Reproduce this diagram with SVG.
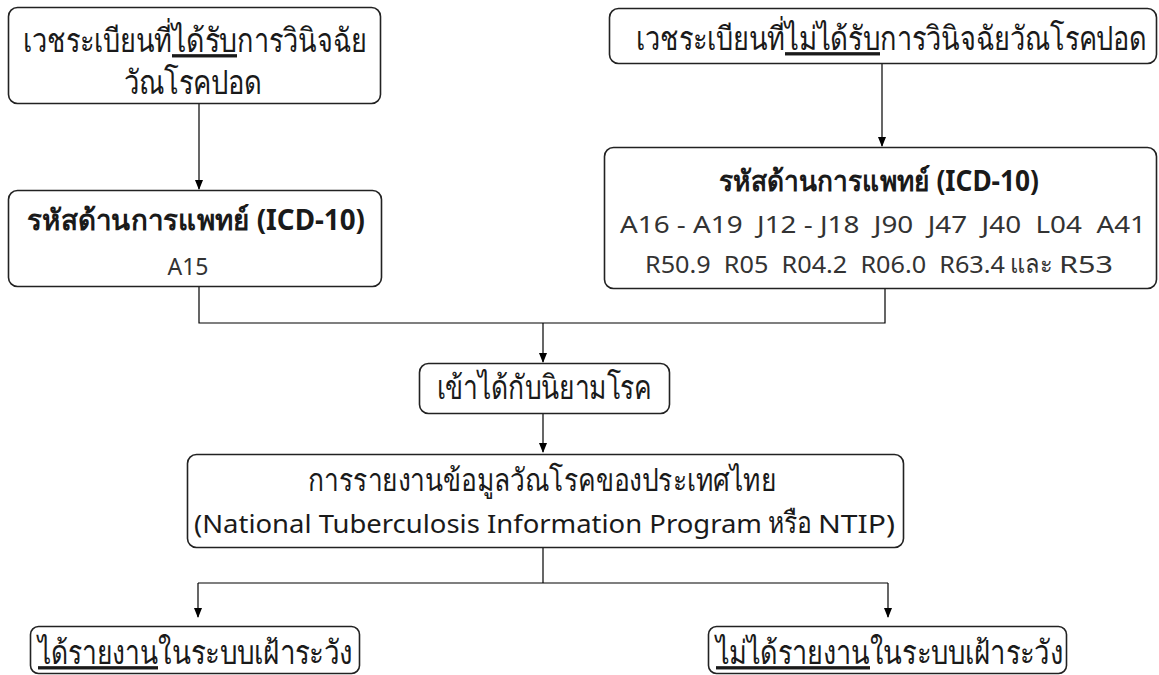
<svg xmlns="http://www.w3.org/2000/svg" width="1159" height="675" viewBox="0 0 1159 675">
<defs>
<marker id="arr" markerWidth="10" markerHeight="12" refX="9" refY="4" orient="auto" markerUnits="userSpaceOnUse" viewBox="0 0 10 8">
<path d="M0,0 L10,4 L0,8 z" fill="#000"/>
</marker>
<style>
.box{fill:#fff;stroke:#222;stroke-width:1.6}
.t{font-family:"Noto Sans","DejaVu Sans",sans-serif;fill:#1a1a1a;text-anchor:middle}
.s{text-anchor:start}
.b{font-weight:bold}
.c{fill:#333}
.u{text-decoration:underline}
.ln{fill:none;stroke:#000;stroke-width:1.2}
</style>
</defs>
<rect width="1159" height="675" fill="#fff"/>
<g id="connectors">
<path class="ln" d="M199,103 V189" marker-end="url(#arr)"/>
<path class="ln" d="M882,64 V146" marker-end="url(#arr)"/>
<path class="ln" d="M199,287 V323 H885 V288"/>
<path class="ln" d="M543,323 V362" marker-end="url(#arr)"/>
<path class="ln" d="M543,414 V452" marker-end="url(#arr)"/>
<path class="ln" d="M543,548 V583"/>
<path class="ln" d="M198,583 H888"/>
<path class="ln" d="M198,583 V617" marker-end="url(#arr)"/>
<path class="ln" d="M888,583 V617" marker-end="url(#arr)"/>
</g>
<g id="n1">
<rect class="box" x="8.5" y="7.5" width="372" height="96" rx="9"/>
<text class="t s" transform="translate(23,52) scale(1,1.18)" x="0" y="0" font-size="28" textLength="149" lengthAdjust="spacingAndGlyphs">เวชระเบียนที่</text>
<text class="t s u" transform="translate(172,52) scale(1,1.18)" x="0" y="0" font-size="28" textLength="65" lengthAdjust="spacingAndGlyphs">ได้รับ</text>
<text class="t s" transform="translate(237,52) scale(1,1.18)" x="0" y="0" font-size="28" textLength="130" lengthAdjust="spacingAndGlyphs">การวินิจฉัย</text>
<text class="t" transform="translate(193,94) scale(1,1.18)" x="0" y="0" font-size="28" textLength="138" lengthAdjust="spacingAndGlyphs">วัณโรคปอด</text>
</g>
<g id="n2">
<rect class="box" x="609.5" y="8.5" width="547" height="55" rx="9"/>
<text class="t s" transform="translate(636,50) scale(1,1.18)" x="0" y="0" font-size="28" textLength="149" lengthAdjust="spacingAndGlyphs">เวชระเบียนที่</text>
<text class="t s u" transform="translate(785,50) scale(1,1.18)" x="0" y="0" font-size="28" textLength="95" lengthAdjust="spacingAndGlyphs">ไม่ได้รับ</text>
<text class="t s" transform="translate(880,50) scale(1,1.18)" x="0" y="0" font-size="28" textLength="267" lengthAdjust="spacingAndGlyphs">การวินิจฉัยวัณโรคปอด</text>
</g>
<g id="n3">
<rect class="box" x="8.5" y="190.5" width="373" height="96" rx="9"/>
<text class="t b" transform="translate(196,230) scale(1,1.1)" x="0" y="0" font-size="26" textLength="338" lengthAdjust="spacingAndGlyphs">รหัสด้านการแพทย์ (ICD-10)</text>
<text class="t c" x="188" y="275" font-size="23">A15</text>
</g>
<g id="n4">
<rect class="box" x="604.5" y="147.5" width="552" height="141" rx="9"/>
<text class="t b" transform="translate(879,191) scale(1,1.1)" x="0" y="0" font-size="26" textLength="320" lengthAdjust="spacingAndGlyphs">รหัสด้านการแพทย์ (ICD-10)</text>
<text class="t c" x="883" y="233" font-size="23" textLength="526" lengthAdjust="spacingAndGlyphs" xml:space="preserve">A16 - A19  J12 - J18  J90  J47  J40  L04  A41</text>
<text class="t c s" x="645" y="273" font-size="23" textLength="360" lengthAdjust="spacingAndGlyphs" xml:space="preserve">R50.9  R05  R04.2  R06.0  R63.4</text>
<text class="t c s" transform="translate(1010,273) scale(1,1.15)" x="0" y="0" font-size="23" textLength="42" lengthAdjust="spacingAndGlyphs">และ</text>
<text class="t c s" x="1059" y="273" font-size="23" textLength="54" lengthAdjust="spacingAndGlyphs">R53</text>
</g>
<g id="n5">
<rect class="box" x="419.5" y="363.5" width="250" height="50" rx="9"/>
<text class="t" transform="translate(544,399) scale(1,1.18)" x="0" y="0" font-size="28" textLength="215" lengthAdjust="spacingAndGlyphs">เข้าได้กับนิยามโรค</text>
</g>
<g id="n6">
<rect class="box" x="187.5" y="454.5" width="716" height="93" rx="9"/>
<text class="t" transform="translate(542,491) scale(1,1.15)" x="0" y="0" font-size="27" textLength="468" lengthAdjust="spacingAndGlyphs">การรายงานข้อมูลวัณโรคของประเทศไทย</text>
<text class="t s" x="194" y="533" font-size="25" textLength="568" lengthAdjust="spacingAndGlyphs">(National Tuberculosis Information Program</text>
<text class="t s" transform="translate(768,533) scale(1,1.15)" x="0" y="0" font-size="26" textLength="44" lengthAdjust="spacingAndGlyphs">หรือ</text>
<text class="t s" x="818" y="533" font-size="25" textLength="77" lengthAdjust="spacingAndGlyphs">NTIP)</text>
</g>
<g id="n7">
<rect class="box" x="30.5" y="626.5" width="329" height="47" rx="8"/>
<text class="t s u" transform="translate(38,664) scale(1,1.18)" x="0" y="0" font-size="28" textLength="120" lengthAdjust="spacingAndGlyphs">ได้รายงาน</text>
<text class="t s" transform="translate(158,664) scale(1,1.18)" x="0" y="0" font-size="28" textLength="195" lengthAdjust="spacingAndGlyphs">ในระบบเฝ้าระวัง</text>
</g>
<g id="n8">
<rect class="box" x="708.5" y="626.5" width="358" height="47" rx="8"/>
<text class="t s u" transform="translate(716,664) scale(1,1.18)" x="0" y="0" font-size="28" textLength="154" lengthAdjust="spacingAndGlyphs">ไม่ได้รายงาน</text>
<text class="t s" transform="translate(870,664) scale(1,1.18)" x="0" y="0" font-size="28" textLength="193" lengthAdjust="spacingAndGlyphs">ในระบบเฝ้าระวัง</text>
</g>
</svg>
